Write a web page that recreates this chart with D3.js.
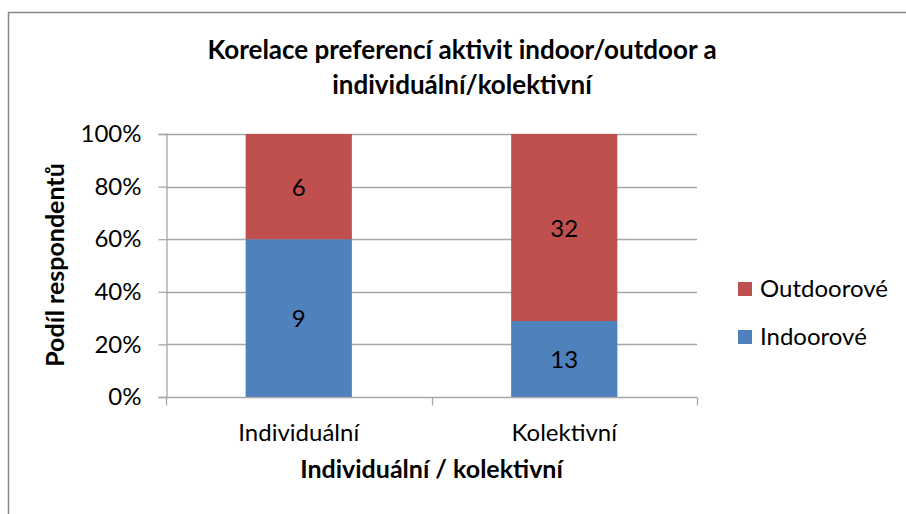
<!DOCTYPE html>
<html>
<head>
<meta charset="utf-8">
<script src="https://cdn.jsdelivr.net/npm/d3@7"></script>
<style>
  body { margin: 0; background: #fff; }
  svg { display: block; font-family: Lato, "Open Sans", sans-serif; }
</style>
</head>
<body>
<svg id="chart" width="906" height="514"></svg>
<script>
const categories = ["Individuální", "Kolektivní"];
const seriesNames = ["Indoorové", "Outdoorové"];
const indoor = [9, 13];
const outdoor = [6, 32];
const yTicks = [0, 0.2, 0.4, 0.6, 0.8, 1];
const colors = ["#4F81BD", "#C0504D"];

const svg = d3.select("#chart");

// chart border
svg.append("rect")
  .attr("x", 8.5).attr("y", 12.5)
  .attr("width", 910).attr("height", 520)
  .attr("fill", "none").attr("stroke", "#868686").attr("stroke-width", 1.5);

const plot = { left: 166, right: 697, top: 134, bottom: 397 };

const x = d3.scaleBand().domain(categories).range([plot.left, plot.right]).paddingInner(0.6).paddingOuter(0.3);
const y = d3.scaleLinear().domain([0, 1]).range([plot.bottom, plot.top]);

const rows = categories.map((c, i) => ({ cat: c, Indoorové: indoor[i], Outdoorové: outdoor[i] }));
const stacked = d3.stack().keys(seriesNames).offset(d3.stackOffsetExpand)(rows);

// gridlines
svg.append("g").selectAll("line")
  .data(yTicks.filter(t => t > 0))
  .enter().append("line")
  .attr("x1", plot.left).attr("x2", plot.right)
  .attr("y1", d => Math.round(y(d)) + 0.5).attr("y2", d => Math.round(y(d)) + 0.5)
  .attr("stroke", "#a6a6a6").attr("stroke-width", 1.3);

// y axis
const yAxis = svg.append("g")
  .attr("transform", `translate(${plot.left + 0.5},0)`)
  .call(d3.axisLeft(y).tickValues(yTicks).tickFormat(d3.format(".0%")).tickSize(8).tickPadding(17));
yAxis.select(".domain").attr("stroke", "#a6a6a6").attr("stroke-width", 1.3);
yAxis.selectAll(".tick line").attr("stroke", "#a6a6a6").attr("stroke-width", 1.3);
yAxis.selectAll(".tick text").attr("font-size", 24).attr("fill", "#000").attr("font-family", "Lato, sans-serif");

// bars
svg.append("g").selectAll("g")
  .data(stacked)
  .enter().append("g")
  .attr("fill", (d, i) => colors[i])
  .selectAll("rect")
  .data(d => d.map(v => Object.assign(v, { key: d.key })))
  .enter().append("rect")
  .attr("x", d => x(d.data.cat))
  .attr("width", x.bandwidth())
  .attr("y", d => y(d[1]))
  .attr("height", d => y(d[0]) - y(d[1]));

// x axis
const xAxis = svg.append("g")
  .attr("transform", `translate(0,${plot.bottom + 0.5})`)
  .call(d3.axisBottom(x).tickSize(0).tickPadding(26));
xAxis.select(".domain").attr("stroke", "#a6a6a6").attr("stroke-width", 1.3)
  .attr("d", `M${plot.left},0H${plot.right}`);
xAxis.selectAll(".tick text").attr("font-size", 24).attr("fill", "#000").attr("font-family", "Lato, sans-serif");
// category boundary ticks
const bounds = [plot.left, (plot.left + plot.right) / 2, plot.right];
xAxis.selectAll(".bound")
  .data(bounds)
  .enter().append("line")
  .attr("x1", d => Math.round(d) + 0.5).attr("x2", d => Math.round(d) + 0.5)
  .attr("y1", 0).attr("y2", 8)
  .attr("stroke", "#a6a6a6").attr("stroke-width", 1.3);

// data labels
svg.append("g").selectAll("g")
  .data(stacked)
  .enter().append("g")
  .selectAll("text")
  .data(d => d)
  .enter().append("text")
  .attr("x", d => x(d.data.cat) + x.bandwidth() / 2)
  .attr("y", d => (y(d[0]) + y(d[1])) / 2 + 9)
  .attr("text-anchor", "middle")
  .attr("font-size", 24)
  .text(d => d.data[d.key]);

// title
const title = svg.append("text")
  .attr("text-anchor", "middle")
  .attr("font-size", 26).attr("font-weight", "bold");
title.append("tspan").attr("x", 462).attr("y", 59).text("Korelace preferencí aktivit indoor/outdoor a");
title.append("tspan").attr("x", 462).attr("y", 94).text("individuální/kolektivní");

// axis titles
svg.append("text")
  .attr("x", (plot.left + plot.right) / 2).attr("y", 478)
  .attr("text-anchor", "middle")
  .attr("font-size", 25).attr("font-weight", "bold")
  .text("Individuální / kolektivní");

svg.append("text")
  .attr("transform", `translate(64,${265}) rotate(-90)`)
  .attr("text-anchor", "middle")
  .attr("font-size", 25).attr("font-weight", "bold")
  .text("Podíl respondentů");

// legend
const legendItems = [
  { name: seriesNames[1], color: colors[1] },
  { name: seriesNames[0], color: colors[0] }
];
const legend = svg.append("g").selectAll("g")
  .data(legendItems)
  .enter().append("g")
  .attr("transform", (d, i) => `translate(738,${282 + i * 48})`);
legend.append("rect").attr("width", 14).attr("height", 14).attr("fill", d => d.color);
legend.append("text").attr("x", 22).attr("y", 15).attr("font-size", 24).text(d => d.name);
</script>
</body>
</html>
